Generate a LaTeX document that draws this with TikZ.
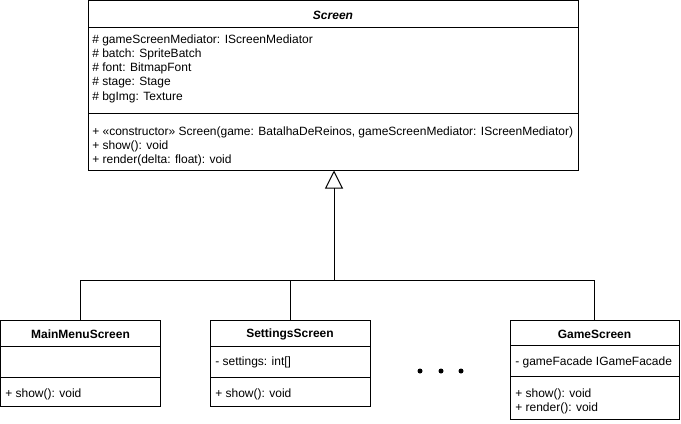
\documentclass[tikz,border=0pt]{standalone}
\usepackage{fontspec}
\setmainfont{Liberation Sans}
\usetikzlibrary{arrows.meta}
\newlength\upx \setlength\upx{0.75pt}
\tikzset{
  classbox/.style={draw, line width=\upx, inner sep=0pt, minimum width=#1},
  member/.style={anchor=west, inner sep=0pt, yshift=-1.5\upx, font=\fontsize{9}{11}\selectfont},
  ctitle/.style={inner sep=0pt, yshift=-1.5\upx, font=\fontsize{9}{11}\selectfont\bfseries},
  sep/.style={line width=\upx},
  conn/.style={line width=\upx},
  dot/.style={circle, fill=black, inner sep=0pt, minimum size=5\upx}
}
\begin{document}
\begin{tikzpicture}[x=0.75pt, y=-0.75pt]
\useasboundingbox (0,0) rectangle (681,424);
% Screen
\node[classbox=490\upx, minimum height=169\upx] (screen) at (333,85.5) {};
\node[ctitle, font=\fontsize{9}{11}\selectfont\bfseries\itshape] (screent) at (333,14) {Screen};
\draw[sep] (88,28) -- (578,28);
\draw[sep] (88,114) -- (578,114);
\node[member] (s1) at (92,39) {\# gameScreenMediator: IScreenMediator};
\node[member] (s2) at (92,53) {\# batch: SpriteBatch};
\node[member] (s3) at (92,67) {\# font: BitmapFont};
\node[member] (s4) at (92,81) {\# stage: Stage};
\node[member] (s5) at (92,96) {\# bgImg: Texture};
\node[member] (s6) at (92,131) {+ «constructor» Screen(game: BatalhaDeReinos, gameScreenMediator: IScreenMediator)};
\node[member] (s7) at (92,145) {+ show(): void};
\node[member] (s8) at (92,159) {+ render(delta: float): void};
% MainMenuScreen
\node[classbox=160\upx, minimum height=86\upx] (main) at (80.5,363) {};
\node[ctitle] (maint) at (80.5,333) {MainMenuScreen};
\draw[sep] (0.5,346) -- (160.5,346);
\draw[sep] (0.5,377) -- (160.5,377);
\node[member] (m1) at (5,393) {+ show(): void};
% SettingsScreen
\node[classbox=160\upx, minimum height=86\upx] (settings) at (290,363) {};
\node[ctitle] (settingst) at (290,333) {SettingsScreen};
\draw[sep] (210,346) -- (370,346);
\draw[sep] (210,377) -- (370,377);
\node[member] (t1) at (215,361) {- settings: int[]};
\node[member] (t2) at (215,393) {+ show(): void};
% GameScreen
\node[classbox=169\upx, minimum height=99\upx] (game) at (594.5,370) {};
\node[ctitle] (gamet) at (594.5,333) {GameScreen};
\draw[sep] (510,345) -- (679,345);
\draw[sep] (510,376) -- (679,376);
\node[member] (g1) at (515,361) {- gameFacade IGameFacade};
\node[member] (g2) at (515,393) {+ show(): void};
\node[member] (g3) at (515,407) {+ render(): void};
% dots
\node[dot] (d1) at (420,371) {};
\node[dot] (d2) at (441,371) {};
\node[dot] (d3) at (461,371) {};
% connectors
\coordinate (bus) at (334,280);
\draw[conn, -{Triangle[open, width=13.5pt, length=13.5pt, line width=0.75pt]}] (bus) -- (bus |- screen.south);
\draw[conn] (main.north) |- (bus);
\draw[conn] (settings.north) -- (settings.north |- bus);
\draw[conn] (game.north) |- (bus);
\end{tikzpicture}
\end{document}
